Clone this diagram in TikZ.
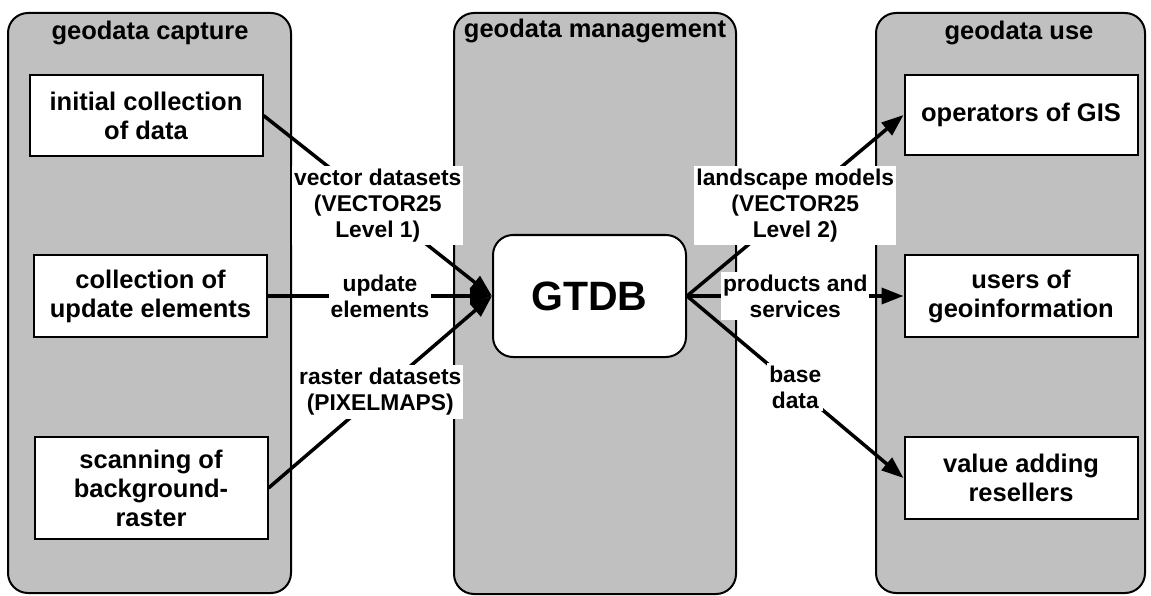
\documentclass[tikz,border=0pt]{standalone}
\usepackage{fontspec}
\setmainfont{Liberation Sans}
\usepackage{tikz}
\usetikzlibrary{arrows.meta}
\definecolor{panelgrey}{RGB}{192,192,192}

\begin{document}
\begin{tikzpicture}[x=1pt, y=-1pt,
		panel/.style={draw=black, line width=2pt, fill=panelgrey, rounded corners=20pt},
		paneltitle/.style={anchor=base, font=\fontsize{25.5}{29}\selectfont\bfseries},
		box/.style={draw=black, line width=2pt, fill=white, align=center, minimum width=233pt, font=\fontsize{25.5}{29}\selectfont\bfseries},
		flow/.style={line width=3.5pt, -{Triangle[length=22pt, width=16pt]}},
		lbl/.style={fill=white, align=center, inner xsep=2pt, inner ysep=3pt, font=\fontsize{22.8}{26}\selectfont\bfseries}]
		%%%%% START %%%%%
		
		\useasboundingbox (0, 0) rectangle (1151, 596);
		
		\draw[panel] (8, 13) rectangle (291, 593);
		\draw[panel] (454, 13) rectangle (736, 594);
		\draw[panel] (876, 13) rectangle (1145, 593);
		
		\node[paneltitle] (capture) at (150, 40) {geodata capture};
		\node[paneltitle] (management) at (595, 38) {geodata management};
		\node[paneltitle] (use) at (1019, 40) {geodata use};
		
		\node[box, minimum height=81pt] (initial) at (146, 115.5) {initial collection\\of data};
		\node[box, minimum height=82pt] (update) at (150.5, 296) {collection of\\update elements};
		\node[box, minimum height=102pt] (scanning) at (151, 488) {scanning of\\background-\\raster};
		
		\node[box, minimum height=80pt] (operators) at (1021, 115) {operators of GIS};
		\node[box, minimum height=82pt] (users) at (1021, 296) {users of\\geoinformation};
		\node[box, minimum height=82pt] (resellers) at (1021, 478) {value adding\\resellers};
		
		\node[draw=black, line width=2pt, fill=white, rounded corners=20pt, minimum width=193pt, minimum height=122pt, font=\fontsize{41}{48}\selectfont\bfseries] (gtdb) at (589.5, 296) {GTDB};
		
		\draw[flow] (initial.east) -- node[lbl] (vector) {vector datasets\\(VECTOR25\\Level 1)} (gtdb.west);
		\draw[flow] (update.east) -- node[lbl] (elements) {update\\elements} (gtdb.west);
		\draw[flow] (scanning.east) -- node[lbl] (raster) {raster datasets\\(PIXELMAPS)} (gtdb.west);
		
		\draw[flow] (gtdb.east) -- node[lbl] (landscape) {landscape models\\(VECTOR25\\Level 2)} (operators.west);
		\draw[flow] (gtdb.east) -- node[lbl] (products) {products and\\services} (users.west);
		\draw[flow] (gtdb.east) -- node[lbl] (base) {base\\data} (resellers.west);
		
		%%%%% END %%%%%
	\end{tikzpicture}
\end{document}
